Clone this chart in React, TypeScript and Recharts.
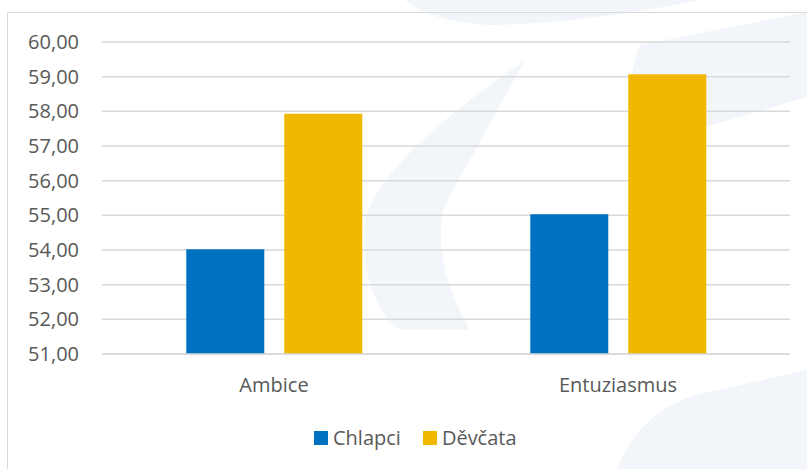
import { BarChart, Bar, XAxis, YAxis, CartesianGrid, Legend } from "recharts";

const categories = ["Ambice", "Entuziasmus"];
const chlapci = [54.02, 55.03];
const devcata = [57.93, 59.07];
const yTicks = [51, 52, 53, 54, 55, 56, 57, 58, 59, 60];
const seriesColors = ["#0070c0", "#f0b800"];

const data = categories.map((name, i) => ({
  name,
  Chlapci: chlapci[i],
  Děvčata: devcata[i],
}));

const font = "'Open Sans', sans-serif";
const textColor = "#595959";

// faint logo watermark behind the chart (decoration only)
const Watermark = () => (
  <svg width={807} height={469} style={{ position: "absolute", left: 0, top: 0 }}>
    <g fill="#f2f5fa">
      <path d="M405 0 Q430 22 490 25 Q580 24 700 0 Z" />
      <path d="M525 60 L445 205 Q430 260 470 330 L400 330 Q360 300 365 220 Q380 160 525 60 Z" />
      <path d="M640 45 L807 12 L807 97 L705 127 L630 145 Q625 80 640 45 Z" />
      <path d="M617 469 Q640 410 700 394 L807 370 L807 469 Z" />
    </g>
  </svg>
);

const LegendContent = () => (
  <div style={{ display: "flex", alignItems: "center", fontFamily: font, fontSize: 20, color: textColor }}>
    {["Chlapci", "Děvčata"].map((name, i) => (
      <div key={name} style={{ display: "flex", alignItems: "center", marginRight: 22 }}>
        <span style={{ width: 14, height: 14, background: seriesColors[i], marginRight: 5, display: "inline-block" }} />
        <span>{name}</span>
      </div>
    ))}
  </div>
);

const App = () => {
  return (
    <div style={{ position: "absolute", left: 0, top: 0, width: 807, height: 469, overflow: "hidden", background: "#fff" }}>
      <Watermark />
      <div
        style={{
          position: "absolute",
          left: 7,
          top: 12,
          width: 840,
          height: 500,
          border: "1.5px solid #d9d9d9",
        }}
      />
      <div style={{ position: "absolute", left: 0, top: 0 }}>
        <BarChart
          width={807}
          height={469}
          data={data}
          margin={{ top: 42, right: 17, left: 0, bottom: 18 }}
          barCategoryGap="24.5%"
          barGap={20}
          style={{ fontFamily: font }}
        >
          <CartesianGrid vertical={false} stroke="#d9d9d9" strokeWidth={1.5} />
          <XAxis
            dataKey="name"
            height={70}
            tickLine={false}
            tickSize={0}
            tickMargin={24}
            axisLine={{ stroke: "#d9d9d9", strokeWidth: 1.5 }}
            tick={{ fill: textColor, fontSize: 20, fontFamily: font }}
          />
          <YAxis
            width={102}
            domain={[51, 60]}
            ticks={yTicks}
            interval={0}
            axisLine={false}
            tickLine={false}
            tickSize={0}
            tickMargin={23}
            tick={{ fill: textColor, fontSize: 20, fontFamily: font }}
            tickFormatter={(v: number) => v.toFixed(2).replace(".", ",")}
          />
          <Legend
            content={<LegendContent />}
            wrapperStyle={{ left: 314, width: 300, height: 27, display: "flex", alignItems: "center" }}
          />
          <Bar dataKey="Chlapci" fill={seriesColors[0]} isAnimationActive={false} />
          <Bar dataKey="Děvčata" fill={seriesColors[1]} isAnimationActive={false} />
        </BarChart>
      </div>
    </div>
  );
};

export default App;
